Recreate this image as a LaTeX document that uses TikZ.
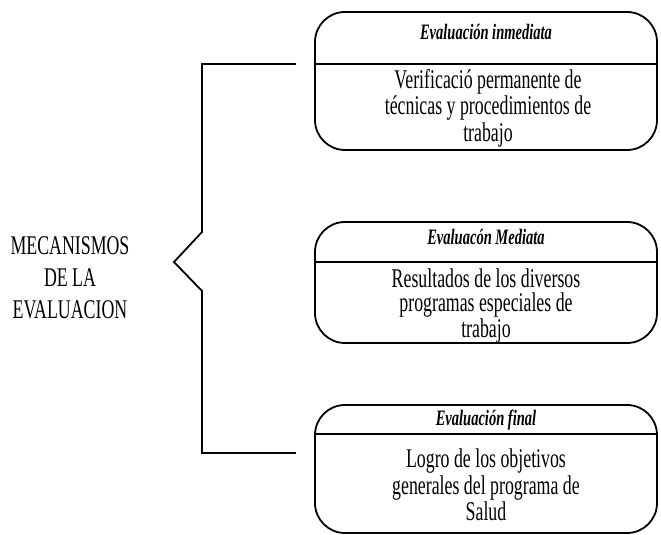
\documentclass[tikz,border=0pt]{standalone}
\usepackage{fontspec}
\setmainfont[FakeStretch=0.66]{Liberation Serif}
\begin{document}
\begin{tikzpicture}[x=0.5pt,y=-0.5pt]
		\tikzstyle{caja} = [draw,line width=0.9pt,rounded corners=15pt,minimum width=171pt]
		\tikzstyle{titulo} = [inner sep=0pt,font=\fontsize{11}{12}\selectfont\bfseries\itshape]
		\tikzstyle{texto} = [inner sep=0pt,align=center,font=\fontsize{13.5}{12}\selectfont]
		\tikzstyle{etiqueta} = [inner sep=0pt,align=center,font=\fontsize{13.5}{16}\selectfont]
		\tikzstyle{raya} = [line width=0.9pt]
		
		\useasboundingbox (0,0) rectangle (661,535);
		
		\node[caja,minimum height=69pt](Inmediata) at (486,81) {};
		\node[caja,minimum height=60.5pt](Mediata) at (486,282.5) {};
		\node[caja,minimum height=64pt](Final) at (486,469) {};
		
		\node[titulo](TitInmediata) at (486,32) {Evaluación inmediata};
		\node[titulo](TitMediata) at (486,237) {Evaluacón Mediata};
		\node[titulo](TitFinal) at (486,420) {Evaluación final};
		
		\node[texto](TxtInmediata) at (488,108) {Verificació permanente de\\técnicas y procedimientos de\\trabajo};
		\node[texto](TxtMediata) at (486,306) {Resultados de los diversos\\programas especiales de\\trabajo};
		\node[texto](TxtFinal) at (486,485) {Logro de los objetivos\\generales del programa de\\Salud};
		
		\draw[raya] (Inmediata.west |- 0,64) -- (Inmediata.east |- 0,64);
		\draw[raya] (Mediata.west |- 0,262) -- (Mediata.east |- 0,262);
		\draw[raya] (Final.west |- 0,434) -- (Final.east |- 0,434);
		
		\node[etiqueta](Mecanismos) at (70,278) {MECANISMOS\\DE LA\\EVALUACION};
		
		\coordinate (Arriba) at (296,64);
		\coordinate (Abajo) at (296,453);
		\coordinate (Punta) at (174,262);
		\draw[raya] (Arriba) -- (202,64) -- (202,232) -- (Punta) -- (202,291) -- (202,453) -- (Abajo);
\end{tikzpicture}
\end{document}
